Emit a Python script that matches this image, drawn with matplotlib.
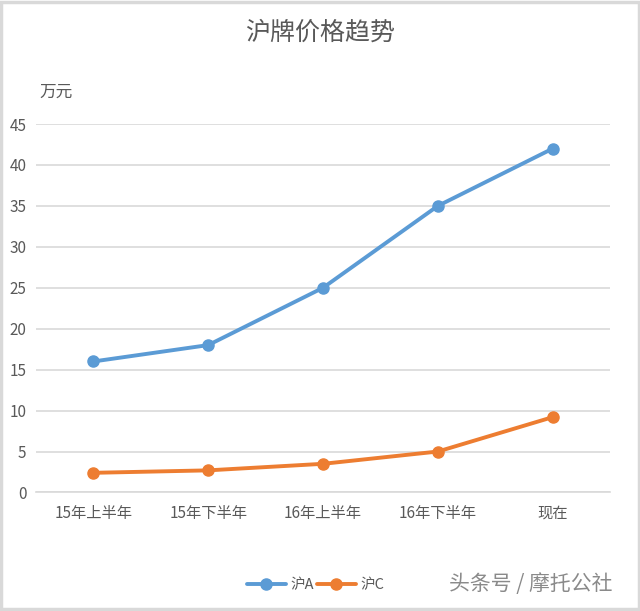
import matplotlib
matplotlib.use("Agg")
import matplotlib.pyplot as plt
from matplotlib.patches import Rectangle

plt.rcParams['font.family'] = ['Noto Sans CJK SC', 'DejaVu Sans']

categories = ["15年上半年", "15年下半年", "16年上半年", "16年下半年", "现在"]
series_a = [16, 18, 25, 35, 42]
series_c = [2.4, 2.7, 3.5, 5.0, 9.2]
yticks = [0, 5, 10, 15, 20, 25, 30, 35, 40, 45]

blue = "#5B9BD5"
orange = "#ED7D31"
txt = "#595959"
grid = "#D9D9D9"

fig = plt.figure(figsize=(6.4, 6.11), dpi=100)
ax = fig.add_axes([0.05625, 0.194, 0.897, 0.603])

x = list(range(len(categories)))
ax.plot(x, series_a, color=blue, lw=2.8, marker='o', ms=8, label="沪A", solid_capstyle='round')
ax.plot(x, series_c, color=orange, lw=2.8, marker='o', ms=8, label="沪C", solid_capstyle='round')

ax.set_xlim(-0.5, len(categories) - 0.5)
ax.set_ylim(0, 45)
ax.set_yticks(yticks)
ax.set_xticks(x)
ax.set_xticklabels(categories)
ax.tick_params(axis='both', length=0, colors=txt, labelsize=11)
ax.tick_params(axis='x', pad=9)
ax.tick_params(axis='y', pad=7)
ax.grid(axis='y', color=grid, lw=1.2)
ax.set_axisbelow(True)
for s in ax.spines.values():
    s.set_visible(False)
ax.spines['bottom'].set_visible(True)
ax.spines['bottom'].set_color(grid)
ax.spines['bottom'].set_linewidth(1.2)

fig.text(0.5, 0.947, "沪牌价格趋势", ha='center', va='center', fontsize=18, color=txt)
fig.text(0.062, 0.849, "万元", ha='left', va='center', fontsize=12, color=txt)

leg = fig.legend(loc='center', bbox_to_anchor=(0.493, 0.043), ncol=2, frameon=False,
                 fontsize=10.5, handlelength=2.7, columnspacing=0.2, handletextpad=0.3)
for t in leg.get_texts():
    t.set_color(txt)

fig.text(0.957, 0.045, "头条号 / 摩托公社", ha='right', va='center', fontsize=15, color="#8a8a8a")

fig.patches.append(Rectangle((0.002, 0.003), 0.996, 0.994, transform=fig.transFigure,
                             fill=False, edgecolor="#D9D9D9", lw=2.5))

fig.savefig("out.png", dpi=100)
